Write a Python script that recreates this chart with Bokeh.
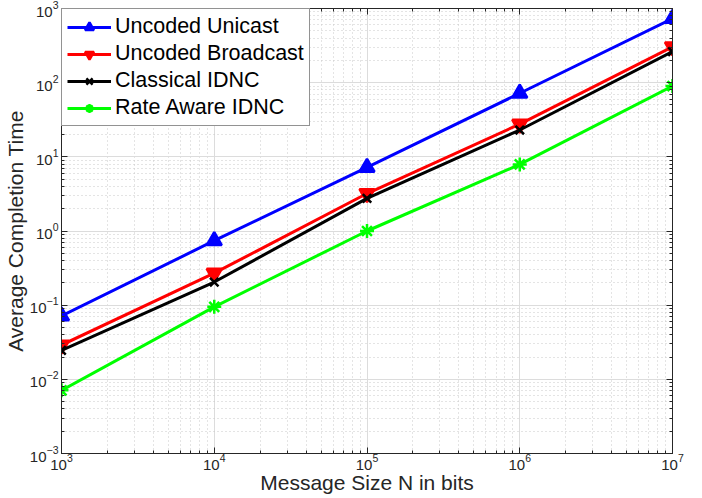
from bokeh.plotting import figure
from bokeh.models import LogAxis, FixedTicker, Legend, LegendItem, CustomJSTickFormatter
from bokeh.embed import file_html
from bokeh.resources import INLINE

# Data
message_size = [1e3, 1e4, 1e5, 1e6, 1e7]
uncoded_unicast = [0.0714, 0.74, 7.2, 72, 733]
uncoded_broadcast = [0.029, 0.27, 3.2, 27.6, 305]
classical_idnc = [0.0246, 0.205, 2.75, 23, 262]
rate_aware_idnc = [0.0071, 0.095, 1.0, 7.9, 90]

x_major = [1e3, 1e4, 1e5, 1e6, 1e7]
y_major = [1e-3, 1e-2, 1e-1, 1e0, 1e1, 1e2, 1e3]

def minors(majors):
    out = []
    for m in majors[:-1]:
        for k in range(2, 10):
            out.append(m * k)
    return out

x_minor = minors(x_major)
y_minor = minors(y_major)

FONT = "Liberation Sans"
TXT = "#262626"

p = figure(width=686, height=496, x_axis_type="log", y_axis_type="log",
           x_range=(1e3, 1e7), y_range=(1e-3, 1e3),
           output_backend="svg", toolbar_location=None,
           min_border_left=10, min_border_right=14, min_border_top=8, min_border_bottom=0)

p.outline_line_color = "#262626"
p.outline_line_width = 1
p.background_fill_color = "white"
p.border_fill_color = "white"

p.xaxis.ticker = FixedTicker(ticks=x_major, minor_ticks=x_minor)
p.yaxis.ticker = FixedTicker(ticks=y_major, minor_ticks=y_minor)

for ax in [p.xaxis[0], p.yaxis[0]]:
    ax.major_tick_in = 6
    ax.major_tick_out = 0
    ax.minor_tick_in = 3
    ax.minor_tick_out = 0
    ax.axis_line_color = "#262626"
    ax.major_tick_line_color = "#262626"
    ax.minor_tick_line_color = "#262626"
    ax.major_label_text_font = FONT
    ax.major_label_text_font_size = "15px"
    ax.major_label_text_color = TXT
    ax.axis_label_text_font = FONT
    ax.axis_label_text_font_size = "21px"
    ax.axis_label_text_font_style = "normal"
    ax.axis_label_text_color = TXT

p.xaxis.axis_label = "Message Size N in bits"
p.yaxis.axis_label = "Average Completion Time"
p.xaxis.axis_label_standoff = -2
p.yaxis.axis_label_standoff = 0
p.xaxis.major_label_standoff = 0
p.yaxis.major_label_standoff = 3

blank = CustomJSTickFormatter(code="return '';")
ra = LogAxis(ticker=FixedTicker(ticks=y_major, minor_ticks=y_minor), formatter=blank)
ta = LogAxis(ticker=FixedTicker(ticks=x_major, minor_ticks=x_minor), formatter=blank)
for ax in [ra, ta]:
    ax.major_tick_in = 6
    ax.major_tick_out = 0
    ax.minor_tick_in = 3
    ax.minor_tick_out = 0
    ax.axis_line_color = "#262626"
    ax.major_tick_line_color = "#262626"
    ax.minor_tick_line_color = "#262626"
    ax.major_label_standoff = 0
p.add_layout(ra, "right")
p.add_layout(ta, "above")

for g in [p.xgrid[0], p.ygrid[0]]:
    g.grid_line_color = "#dcdcdc"
    g.grid_line_width = 1
    g.minor_grid_line_color = "#c8c8c8"
    g.minor_grid_line_dash = "1 3"
    g.minor_grid_line_width = 1

series = [
    ("Uncoded Unicast", uncoded_unicast, "#0000ff", "triangle", 15),
    ("Uncoded Broadcast", uncoded_broadcast, "#ff0000", "inverted_triangle", 15),
    ("Classical IDNC", classical_idnc, "#000000", "x", 12),
    ("Rate Aware IDNC", rate_aware_idnc, "#00ff00", "asterisk", 14),
]

items = []
for name, vals, color, marker, sz in series:
    l = p.line(message_size, vals, line_color=color, line_width=3)
    m = p.scatter(message_size, vals, marker=marker, size=sz, line_color=color,
                  fill_color=color, line_width=2.5)
    items.append(LegendItem(label=name, renderers=[l, m]))

legend = Legend(items=items, location="top_left")
legend.label_text_font = FONT
legend.label_text_font_size = "21.5px"
legend.label_text_color = "#000000"
legend.border_line_color = "#262626"
legend.border_line_width = 1
legend.background_fill_alpha = 1
legend.margin = 0
legend.padding = 5
legend.spacing = 2
legend.glyph_width = 44
legend.glyph_height = 22
legend.label_height = 22
legend.label_standoff = 4
p.add_layout(legend, "center")

open("out.html", "w").write(file_html(p, INLINE))
